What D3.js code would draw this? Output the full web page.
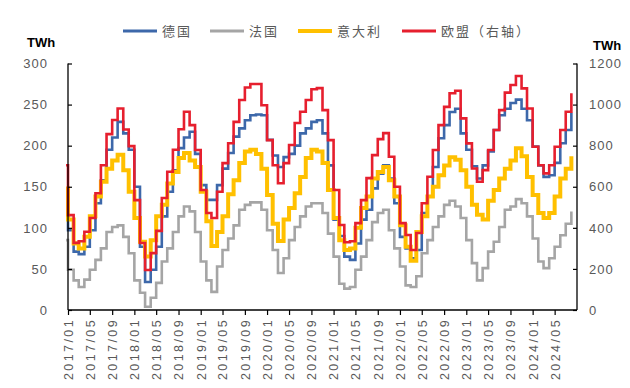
<!DOCTYPE html>
<html><head><meta charset="utf-8">
<script src="https://cdn.jsdelivr.net/npm/d3@7"></script>
<style>
body{margin:0;background:#fff;}
svg{display:block;font-family:"Liberation Sans",Arial,sans-serif;}
</style>
</head><body>
<svg id="c" width="630" height="388"></svg>
<script>
// Month categories: 2016/12 (opening level) through 2024/08
const monthStart = "2016-12", monthEnd = "2024-08";
const tickLabels = ["2017/01","2017/05","2017/09","2018/01","2018/05","2018/09","2019/01","2019/05","2019/09","2020/01","2020/05","2020/09","2021/01","2021/05","2021/09","2022/01","2022/05","2022/09","2023/01","2023/05","2023/09","2024/01","2024/05"];
const leftTicks = [0,50,100,150,200,250,300];
const rightTicks = [0,200,400,600,800,1000,1200];

// 德国 (TWh, left axis)
const germany = [112,
 97,71,68,77,97,130,158,195,210,229,215,195,
 150,77,34,49,77,114,144,170,197,210,217,190,
 152,134,134,152,172,191,211,221,231,237,238,237,
 207,188,174,186,190,200,215,221,229,231,215,176,
 110,90,65,61,81,110,122,148,166,176,160,130,
 89,75,63,73,118,138,174,209,225,241,245,215,
 195,175,160,176,193,219,237,245,252,256,245,231,
 199,176,162,164,179,203,219,240];
// 法国 (TWh, left axis)
const france = [85,
 49,36,28,37,49,61,75,95,101,103,89,69,
 36,21,4,15,33,59,75,95,114,126,120,95,
 59,36,22,53,73,87,103,122,128,131,131,122,
 97,73,45,63,85,101,114,126,130,130,118,93,
 65,32,26,28,49,65,85,107,118,122,97,75,
 53,30,28,41,69,85,101,114,128,133,126,112,
 85,57,36,51,71,83,101,122,126,135,130,114,
 87,59,51,63,77,91,105,120];
// 意大利 (TWh, left axis)
const italy = [148,
 110,81,75,89,114,138,156,172,182,189,170,144,
 112,83,65,85,114,128,154,168,185,191,182,174,
 144,108,78,95,114,141,158,179,193,195,190,172,
 140,105,84,110,124,142,162,185,195,193,179,146,
 112,85,73,75,100,124,138,160,168,174,158,138,
 103,77,60,95,114,138,150,164,176,186,183,170,
 150,128,116,110,133,146,160,172,182,197,187,162,
 140,118,112,118,138,160,172,187];
// 欧盟（右轴） (TWh, right axis)
const eu = [705,
 462,327,335,381,448,568,705,856,925,981,879,798,
 535,326,195,277,385,545,673,780,880,965,900,779,
 584,472,448,576,715,812,916,1022,1083,1100,1100,997,
 827,705,617,715,803,910,965,1022,1075,1080,973,827,
 584,414,330,335,423,535,642,754,832,861,746,600,
 423,365,292,375,520,649,779,900,989,1055,1067,933,
 811,689,624,681,779,876,973,1058,1095,1139,1079,981,
 795,705,665,705,795,876,965,1055];

const series = [
  {name:"德国", values:germany, color:"#3D68AA", width:2.6, axis:"L"},
  {name:"法国", values:france, color:"#A5A5A5", width:2.6, axis:"L"},
  {name:"意大利", values:italy, color:"#FFC000", width:4, axis:"L"},
  {name:"欧盟（右轴）", values:eu, color:"#E61F2E", width:2.6, axis:"R"}
];

const parse = d3.timeParse("%Y-%m");
const months = d3.timeMonth.range(parse(monthStart), d3.timeMonth.offset(parse(monthEnd),1));

const svg = d3.select("#c");
const L = 68, R = 577, T = 63.5, B = 310;
const x = d3.scaleTime().domain([parse("2017-01"), parse("2024-09")]).range([L, R]);
const yL = d3.scaleLinear().domain([0,300]).range([B, T]);
const yR = d3.scaleLinear().domain([0,1200]).range([B, T]);

svg.append("defs").append("clipPath").attr("id","clip")
  .append("rect").attr("x",L-2).attr("y",0).attr("width",R-L+4).attr("height",388);

// lines
const g = svg.append("g").attr("clip-path","url(#clip)");
series.forEach(s => {
  const y = s.axis === "L" ? yL : yR;
  const line = d3.line().x((d,i)=>x(months[i])).y(d=>y(d)).curve(d3.curveStepAfter);
  g.append("path").datum(s.values)
    .attr("fill","none").attr("stroke",s.color).attr("stroke-width",s.width)
    .attr("stroke-linejoin","miter").attr("d",line);
});

const labelColor = "#595959";
// left axis
const axL = svg.append("g").attr("transform",`translate(${L},0)`)
  .call(d3.axisLeft(yL).tickValues(leftTicks).tickFormat(d3.format("d")).tickSizeInner(-4).tickSizeOuter(0).tickPadding(20));
// right axis
const axR = svg.append("g").attr("transform",`translate(${R},0)`)
  .call(d3.axisRight(yR).tickValues(rightTicks).tickFormat(d3.format("d")).tickSizeInner(-4).tickSizeOuter(0).tickPadding(12));
// bottom axis
const tickDates = tickLabels.map(t => d3.timeParse("%Y/%m")(t));
const axB = svg.append("g").attr("transform",`translate(0,${B})`)
  .call(d3.axisBottom(x).tickValues(tickDates).tickFormat((d,i)=>tickLabels[i]).tickSizeInner(5).tickSizeOuter(0).tickPadding(6));
axB.selectAll("text").attr("transform","rotate(-90)").attr("text-anchor","end")
  .attr("x",-8).attr("y",0).attr("dy","0.35em");

[axL,axR,axB].forEach(a=>{
  a.select(".domain").attr("stroke","#000").attr("stroke-width",1.3);
  a.selectAll(".tick line").attr("stroke","#000").attr("stroke-width",1.2);
  a.selectAll("text").attr("fill",labelColor).attr("font-size",13)
    .attr("font-family","'Liberation Sans',Arial,sans-serif").style("letter-spacing","1px");
});
axB.selectAll("text").attr("font-size",12.5).style("letter-spacing","2.4px");
// extend domain lines to full span
axL.select(".domain").attr("d",`M0,${T}V${B}`);
axR.select(".domain").attr("d",`M0,${T}V${B}`);
axB.select(".domain").attr("d",`M${L},0H${R}`);

// unit labels
svg.append("text").attr("x",27).attr("y",47).text("TWh")
  .attr("font-size",13).attr("font-weight","bold").attr("fill","#000");
svg.append("text").attr("x",593).attr("y",50).text("TWh")
  .attr("font-size",13).attr("font-weight","bold").attr("fill","#000");

// legend
const legendX = [123, 210, 298, 402];
const leg = svg.append("g");
series.forEach((s,i)=>{
  const gx = legendX[i];
  leg.append("line").attr("x1",gx).attr("x2",gx+34).attr("y1",31).attr("y2",31)
    .attr("stroke",s.color).attr("stroke-width",s.width>3?4:3);
  leg.append("text").attr("x",gx+39).attr("y",35.5).text(s.name)
    .attr("font-size",13).attr("fill",labelColor)
    .attr("font-family","'Noto Sans CJK SC',sans-serif").style("letter-spacing","2px");
});
</script>
</body></html>
